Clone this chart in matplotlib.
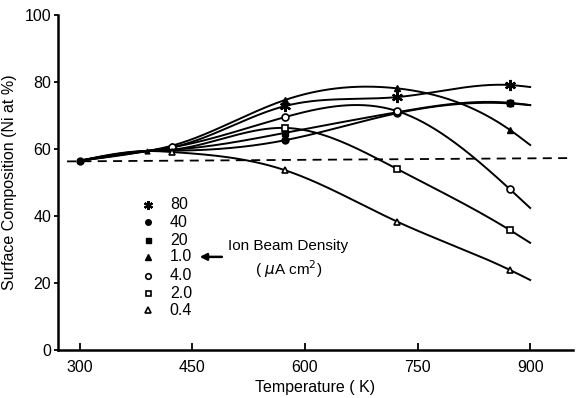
import numpy as np
import matplotlib
matplotlib.use("Agg")
import matplotlib.pyplot as plt

plt.rcParams['font.family'] = ['Liberation Sans', 'DejaVu Sans']

# Temperatures (K): measured points; last value is where the drawn curve ends
TEMPS = [300, 390, 423, 573, 723, 873, 900]

# Ni surface composition (at %) for each ion beam density (uA cm^-2)
V_80 = [56.5, 59.4, 60.5, 72.8, 75.5, 79.1, 78.5]
V_40 = [56.5, 59.4, 59.5, 62.6, 70.7, 73.6, 73.1]
V_20 = [56.5, 59.4, 59.8, 64.8, 71.0, 73.8, 73.1]
V_10 = [56.5, 59.4, 61.0, 74.6, 78.1, 65.7, 61.2]
V_4 = [56.5, 59.4, 60.5, 69.5, 71.3, 48.0, 42.4]
V_2 = [56.5, 59.4, 59.8, 66.3, 54.0, 35.8, 32.0]
V_04 = [56.5, 59.4, 59.1, 53.7, 38.3, 23.9, 20.9]

LABELS = ["80", "40", "20", "1.0", "4.0", "2.0", "0.4"]

# bulk composition reference (dashed)
DASH_T = [283, 957]
DASH_V = [56.3, 57.3]

SERIES = [V_80, V_40, V_20, V_10, V_4, V_2, V_04]
MARKERS = [
    dict(marker=(6, 2, 0), markersize=8, mew=1.6, mfc='black'),
    dict(marker='o', markersize=5, mfc='black'),
    dict(marker='s', markersize=4.5, mfc='black'),
    dict(marker='^', markersize=5, mfc='black'),
    dict(marker='o', markersize=5, mfc='white', mew=1.2),
    dict(marker='s', markersize=4.5, mfc='white', mew=1.2),
    dict(marker='^', markersize=5, mfc='white', mew=1.2),
]
# which series show a marker at 423 K
SHOW_FIRST = [False, False, False, True, True, False, True]


def natural_spline(x, y, xs):
    """smooth curve through the points (natural cubic spline)"""
    x = np.asarray(x, float)
    y = np.asarray(y, float)
    n = len(x)
    h = np.diff(x)
    A = np.zeros((n, n))
    b = np.zeros(n)
    A[0, 0] = A[-1, -1] = 1
    for i in range(1, n - 1):
        A[i, i - 1] = h[i - 1]
        A[i, i] = 2 * (h[i - 1] + h[i])
        A[i, i + 1] = h[i]
        b[i] = 3 * ((y[i + 1] - y[i]) / h[i] - (y[i] - y[i - 1]) / h[i - 1])
    c = np.linalg.solve(A, b)
    out = np.empty_like(xs)
    for k, t in enumerate(xs):
        i = min(np.searchsorted(x, t, side='right') - 1, n - 2)
        i = max(i, 0)
        bb = (y[i + 1] - y[i]) / h[i] - h[i] * (2 * c[i] + c[i + 1]) / 3
        d = (c[i + 1] - c[i]) / (3 * h[i])
        dt = t - x[i]
        out[k] = y[i] + bb * dt + c[i] * dt ** 2 + d * dt ** 3
    return out


fig = plt.figure(figsize=(5.76, 3.98), dpi=100)
ax = fig.add_axes([0.1007, 0.1206, 0.894, 0.8417])

tt = np.linspace(TEMPS[0], TEMPS[-1], 300)
for vals, mk, first in zip(SERIES, MARKERS, SHOW_FIRST):
    ax.plot(tt, natural_spline(TEMPS, vals, tt), color='black', lw=1.4)
    start = 2 if first else 3
    ax.plot(TEMPS[start:6], vals[start:6], linestyle='none', color='black',
            mec='black', **mk)

# common points at 300 K and 390 K
ax.plot(TEMPS[0], V_80[0], 'o', color='black', markersize=5)
ax.plot(TEMPS[1], V_80[1], '^', color='black', markersize=3.5)

ax.plot(DASH_T, DASH_V, color='black', lw=1.3, linestyle=(0, (5, 3.5)))

# legend block
ly = [43.3, 38.2, 32.8, 27.8, 22.1, 17.0, 11.9]
lx = 391
for y, lab, mk in zip(ly, LABELS, MARKERS):
    m = dict(mk)
    m['markersize'] = m['markersize'] * 0.8
    ax.plot(lx, y, linestyle='none', color='black', mec='black', **m)
    ax.text(lx + 29, y, lab, fontsize=11.5, va='center', ha='left')

ax.annotate("", xy=(456, 27.8), xytext=(493, 27.8),
            arrowprops=dict(arrowstyle='-|>', color='black', lw=1.8,
                            mutation_scale=10))
ax.text(578, 31.0, "Ion Beam Density", fontsize=11, ha='center', va='center')
ax.text(578, 24.0, r"( $\mu$A cm$^2$)", fontsize=11, ha='center', va='center')

ax.set_xlim(271, 957)
ax.set_ylim(0, 100)
ax.set_xticks([300, 450, 600, 750, 900])
ax.set_yticks([0, 20, 40, 60, 80, 100])
ax.tick_params(axis='x', direction='in', length=5, width=1.3, labelsize=11.5, pad=7)
ax.tick_params(axis='y', direction='out', length=3, width=1.3, labelsize=11.5, pad=2)
for s in ['top', 'right']:
    ax.spines[s].set_visible(False)
for s in ['left', 'bottom']:
    ax.spines[s].set_linewidth(1.8)

ax.set_xlabel("Temperature ( K)", fontsize=11.5, labelpad=4)
ax.set_ylabel("Surface Composition (Ni at %)", fontsize=11.5, labelpad=5)

fig.savefig("out.png", dpi=100)
